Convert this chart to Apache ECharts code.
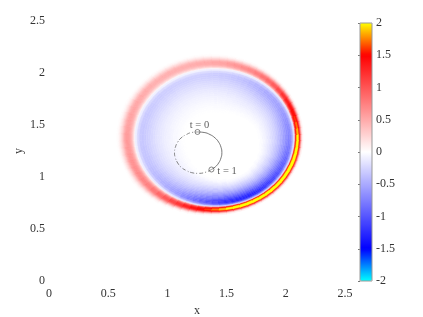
<!DOCTYPE html>
<html><head><meta charset="utf-8">
<style>html,body{margin:0;background:#fff}#c{width:423px;height:317px}canvas{filter:blur(.45px)}</style>
<script src="https://cdn.jsdelivr.net/npm/echarts@6/dist/echarts.min.js"></script></head>
<body><div id="c"></div>
<script>
// Tick labels
const xTicks=['0','0.5','1','1.5','2','2.5'];
// Ring: one entry per 5 degree wedge, starting at +x, counter-clockwise
const ringCenter=[1.406,1.38];
const ringRadius=[.665,.665,.665,.664,.664,.664,.663,.663,.662,.662,.661,.661,.661,.661,.660,.660,.660,.660,.660,
.661,.662,.663,.664,.665,.666,.667,.668,.670,.672,.673,.674,.676,.677,.678,.679,.680,.680,
.680,.679,.678,.677,.676,.675,.674,.673,.672,.671,.670,.669,.668,.666,.665,.664,.662,.661,
.661,.661,.661,.662,.662,.662,.663,.663,.663,.664,.664,.664,.664,.665,.665,.665,.665];
const outerPeak=[2.0,1.85,1.72,1.6,1.52,1.44,1.36,1.25,1.12,1.0,.92,.85,.78,.72,.68,.64,.6,.56,.53,
.52,.51,.5,.49,.48,.48,.48,.48,.49,.5,.51,.52,.53,.54,.56,.57,.58,.6,
.61,.62,.64,.66,.68,.71,.74,.78,.84,.92,1.02,1.12,1.22,1.32,1.42,1.52,1.62,1.74,
1.88,2.0,2.1,2.15,2.2,2.2,2.2,2.2,2.2,2.2,2.2,2.2,2.2,2.2,2.15,2.1,2.05];
const outerWidth=[.075,.076,.078,.08,.083,.086,.09,.095,.1,.105,.11,.114,.118,.122,.126,.13,.134,.137,.14,
.142,.144,.146,.148,.149,.15,.15,.15,.15,.151,.152,.153,.154,.155,.155,.155,.155,.155,
.155,.154,.153,.152,.15,.148,.145,.14,.135,.128,.12,.112,.105,.1,.095,.09,.087,.085,
.083,.081,.079,.078,.077,.076,.075,.075,.075,.075,.075,.075,.075,.075,.075,.075,.075];
const innerPeak=[-.72,-.7,-.68,-.65,-.62,-.59,-.56,-.54,-.52,-.5,-.47,-.44,-.41,-.38,-.36,-.34,-.32,-.31,-.3,
-.29,-.29,-.28,-.28,-.28,-.28,-.28,-.29,-.29,-.3,-.3,-.31,-.31,-.32,-.32,-.33,-.33,-.33,
-.33,-.34,-.34,-.35,-.36,-.38,-.4,-.43,-.46,-.5,-.55,-.6,-.68,-.76,-.85,-.94,-1.02,-1.1,
-1.18,-1.24,-1.28,-1.3,-1.3,-1.28,-1.24,-1.2,-1.14,-1.1,-1.05,-1,-.95,-.9,-.85,-.8,-.76];
const innerWidth=[.3,.305,.31,.315,.32,.33,.34,.35,.36,.37,.38,.39,.4,.41,.41,.42,.42,.42,.42,
.42,.42,.42,.42,.42,.42,.42,.42,.42,.42,.42,.42,.42,.42,.42,.42,.42,.42,
.42,.42,.42,.42,.41,.4,.39,.38,.37,.35,.34,.33,.31,.3,.29,.28,.27,.26,
.25,.25,.24,.24,.24,.24,.24,.24,.25,.25,.26,.26,.27,.27,.28,.29,.29];
// Cross-ring shape, as fractions of the widths above, one value per evenly spaced band
const outerShape=[.08,.26,.46,.64,.78,.88,.95,1,1,1,.95,.87,.75,.6,.46,.34,.23,.14,.08,.03];
const innerShape=[.3,.72,.97,1,.95,.87,.78,.7,.62,.54,.47,.41,.35,.3,.25,.21,.17,.13,.1,.07,.04,.02];
// Solid and dash-dot parts of the path, and its end markers
const pathSolid=[[1.254,1.433],[1.31,1.428],[1.36,1.408],[1.403,1.375],[1.433,1.335],[1.453,1.285],[1.46,1.235],[1.453,1.185],[1.433,1.135],[1.405,1.098],[1.372,1.072]];
const pathDashed=[[1.372,1.072],[1.32,1.045],[1.26,1.035],[1.205,1.042],[1.16,1.062],[1.115,1.095],[1.087,1.135],[1.067,1.185],[1.06,1.235],[1.067,1.285],[1.087,1.335],[1.115,1.375],[1.16,1.408],[1.205,1.428],[1.254,1.433]];
const endNames=['t = 0','t = 1'];
const endPoints=[[1.254,1.433],[1.372,1.072]];
const colorStops=['#00ffff','#0000ff','#5555ff','#aaaaff','#ffffff','#ffaaaa','#ff5555','#ff0000','#ffff00'];

const cells=[];
ringRadius.forEach((R,w)=>{
  outerShape.forEach((s,b)=>cells.push([w,b,Math.min(2,outerPeak[w]*s),1]));
  innerShape.forEach((s,b)=>cells.push([w,b,Math.max(-2,innerPeak[w]*s),-1]));
});
const step=5*Math.PI/180;
function renderCell(params,api){
  const w=api.value(0),b=api.value(1),side=api.value(3);
  const R=ringRadius[w];
  const r0=side>0?R+outerWidth[w]*b/outerShape.length:R-innerWidth[w]*b/innerShape.length;
  const r1=side>0?R+outerWidth[w]*(b+1)/outerShape.length:R-innerWidth[w]*(b+1)/innerShape.length;
  const t=w*step,pt=(r,a)=>api.coord([ringCenter[0]+r*Math.cos(a),ringCenter[1]+r*Math.sin(a)]);
  const c=api.visual('color');
  return {type:'polygon',shape:{points:[pt(r0,t-step/2),pt(r1,t-step/2),pt(r1,t+step/2),pt(r0,t+step/2)]},
    style:{fill:c,stroke:c,lineWidth:.5}};
}
const ink='#333';
const font={fontFamily:'"Liberation Serif",serif',fontSize:12,color:ink};
const chart=echarts.init(document.getElementById('c'),null,{renderer:'canvas'});
chart.setOption({
  animation:false,
  grid:[{left:49,top:21,width:296,height:260,outerBoundsMode:'none'},
        {left:360,top:23,width:12,height:258,outerBoundsMode:'none',show:true,borderColor:'#999',borderWidth:1,backgroundColor:'transparent',z:5}],
  xAxis:[{type:'value',min:0,max:2.5,interval:.5,splitLine:{show:false},axisLine:{show:false},axisTick:{show:false},
    axisLabel:{...font,margin:7,formatter:v=>xTicks[Math.round(v/.5)]},
    name:'x',nameLocation:'middle',nameGap:24,nameMoveOverlap:false,nameTextStyle:{...font}},
    {gridIndex:1,type:'value',min:0,max:1,show:false}],
  yAxis:[{type:'value',min:0,max:2.5,interval:.5,splitLine:{show:false},axisLine:{show:false},axisTick:{show:false},
    axisLabel:{...font,margin:4,padding:[2,0,0,0],verticalAlignMinLabel:'middle',verticalAlignMaxLabel:'middle',formatter:v=>xTicks[Math.round(v/.5)]},
    name:'y',nameLocation:'middle',nameGap:24,nameMoveOverlap:false,nameTextStyle:{...font}},
    {gridIndex:1,type:'value',min:-2,max:2,interval:.5,position:'right',splitLine:{show:false},
     axisLine:{show:false},axisTick:{show:true,inside:true,length:2,lineStyle:{color:'#777'}},
     axisLabel:{...font,margin:4,padding:[2,0,0,0],verticalAlignMinLabel:'middle',verticalAlignMaxLabel:'middle',formatter:v=>String(v)}}],
  visualMap:[{type:'continuous',seriesIndex:0,dimension:2,min:-2,max:2,inRange:{color:colorStops},outOfRange:{color:colorStops},
    calculable:false,realtime:false,hoverLink:false,text:null,showLabel:false,left:360,top:23,itemWidth:12,itemHeight:258,padding:0,borderWidth:0,textStyle:{color:'transparent',fontSize:0}}],
  series:[
   {type:'custom',coordinateSystem:'cartesian2d',renderItem:renderCell,data:cells,silent:true,clip:false,z:1,encode:{x:-1,y:-1}},
   {type:'line',data:pathSolid,smooth:true,showSymbol:false,lineStyle:{color:'#555',width:.8},z:3,silent:true},
   {type:'line',data:pathDashed,smooth:true,showSymbol:false,lineStyle:{color:'#666',width:.8,type:[4,2,1,2]},z:3,silent:true},
   {type:'scatter',data:endPoints.map((p,i)=>({value:p,name:endNames[i],label:i?{position:'right',distance:3,offset:[0,2]}:{position:'top',distance:1,offset:[2,3]}})),
     symbol:'circle',symbolSize:5,itemStyle:{color:'rgba(255,255,255,.2)',borderColor:'#444',borderWidth:.8},z:4,silent:true,
     label:{show:true,formatter:p=>p.name,fontFamily:'"Liberation Serif",serif',fontSize:10.5,color:ink}}
  ]
});
</script></body></html>
